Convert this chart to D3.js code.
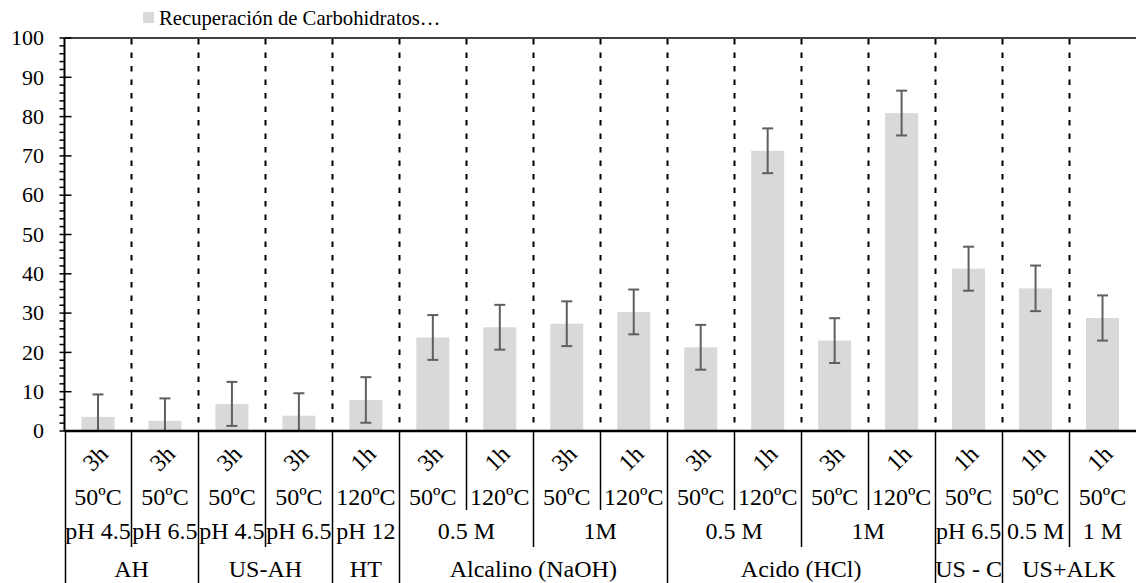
<!DOCTYPE html>
<html>
<head>
<meta charset="utf-8">
<script src="https://cdn.jsdelivr.net/npm/d3@7"></script>
<style>
  body { margin: 0; background: #fff; }
</style>
</head>
<body>
<div id="chart"></div>
<script>
// values
const values = [3.6, 2.6, 6.9, 3.9, 7.9, 23.8, 26.4, 27.3, 30.3, 21.3, 71.3, 23.0, 80.9, 41.3, 36.3, 28.75];
const errors = [5.7, 5.7, 5.6, 5.7, 5.8, 5.7, 5.7, 5.7, 5.7, 5.7, 5.7, 5.7, 5.7, 5.6, 5.8, 5.75];

// category levels, innermost first
const times = ["3h", "3h", "3h", "3h", "1h", "3h", "1h", "3h", "1h", "3h", "1h", "3h", "1h", "1h", "1h", "1h"];
const temps = ["50ºC", "50ºC", "50ºC", "50ºC", "120ºC", "50ºC", "120ºC", "50ºC", "120ºC", "50ºC", "120ºC", "50ºC", "120ºC", "50ºC", "50ºC", "50ºC"];
const condLabels = ["pH 4.5", "pH 6.5", "pH 4.5", "pH 6.5", "pH 12", "0.5 M", "1M", "0.5 M", "1M", "pH 6.5", "0.5 M", "1 M"];
const condSpans = [1, 1, 1, 1, 1, 2, 2, 2, 2, 1, 1, 1];
const groupLabels = ["AH", "US-AH", "HT", "Alcalino (NaOH)", "Acido (HCl)", "US - C", "US+ALK"];
const groupSpans = [2, 2, 1, 4, 4, 1, 2];

const yTicks = d3.range(0, 101, 10);
const legendLabel = "Recuperación de Carbohidratos…";

const chartWidth = 1136;
const chartHeight = 583;
const plotLeft = 64.5;
const plotRight = 1136;
const plotTop = 38;
const plotBottom = 431;
const serif = '"Liberation Serif", "Times New Roman", "DejaVu Serif", serif';

const svg = d3.select('#chart')
    .append('svg')
        .attr('width', chartWidth)
        .attr('height', chartHeight)
        .attr('font-family', serif)
        .style('font-family', serif);

const x = d3.scaleBand()
    .domain(d3.range(values.length))
    .range([plotLeft, plotRight]);

const y = d3.scaleLinear()
    .domain([0, 100])
    .range([plotBottom, plotTop]);

// index where each span starts
function spanStarts(spans) {
    const out = [];
    let s = 0;
    spans.forEach(n => { out.push(s); s += n; });
    return out;
}
const condStarts = spanStarts(condSpans);
const groupStarts = spanStarts(groupSpans);

// dashed separators inside the plot
svg.append('g')
    .selectAll('line')
    .data(d3.range(1, values.length))
    .join('line')
        .attr('x1', i => Math.round(x(i)) + 0.5)
        .attr('x2', i => Math.round(x(i)) + 0.5)
        .attr('y1', y(100) + 1)
        .attr('y2', y(0))
        .attr('stroke', '#000')
        .attr('stroke-width', 2)
        .attr('stroke-dasharray', '5.5,8');

// bars
const barW = 33;
svg.append('g')
    .selectAll('rect')
    .data(values)
    .join('rect')
        .attr('x', (d, i) => x(i) + x.bandwidth() / 2 - barW / 2)
        .attr('y', d => y(d))
        .attr('width', barW)
        .attr('height', d => y(0) - y(d))
        .attr('fill', '#d9d9d9');

// error bars
const errG = svg.append('g')
    .attr('stroke', '#5f5f5f')
    .attr('stroke-width', 2);
const capW = 11;
values.forEach((v, i) => {
    const cx = x(i) + x.bandwidth() / 2;
    const hi = v + errors[i];
    const lo = Math.max(0, v - errors[i]);
    errG.append('line')
        .attr('x1', cx).attr('x2', cx)
        .attr('y1', y(hi)).attr('y2', y(lo));
    errG.append('line')
        .attr('x1', cx - capW / 2).attr('x2', cx + capW / 2)
        .attr('y1', y(hi)).attr('y2', y(hi));
    if (v - errors[i] > 0) {
        errG.append('line')
            .attr('x1', cx - capW / 2).attr('x2', cx + capW / 2)
            .attr('y1', y(lo)).attr('y2', y(lo));
    }
});

// top border and x axis line
svg.append('line')
    .attr('x1', plotLeft).attr('x2', plotRight)
    .attr('y1', y(100)).attr('y2', y(100))
    .attr('stroke', '#000').attr('stroke-width', 1.5);
svg.append('line')
    .attr('x1', plotLeft).attr('x2', plotRight)
    .attr('y1', y(0)).attr('y2', y(0))
    .attr('stroke', '#000').attr('stroke-width', 2.5);

// y axis with major and minor ticks
svg.append('line')
    .attr('x1', plotLeft).attr('x2', plotLeft)
    .attr('y1', y(100)).attr('y2', y(0))
    .attr('stroke', '#000').attr('stroke-width', 2);

svg.append('g')
    .selectAll('line')
    .data(d3.range(0, 101, 2).filter(d => d % 10 !== 0))
    .join('line')
        .attr('x1', plotLeft - 5).attr('x2', plotLeft)
        .attr('y1', d => y(d)).attr('y2', d => y(d))
        .attr('stroke', '#000').attr('stroke-width', 1.5);

svg.append('g')
    .selectAll('line')
    .data(yTicks)
    .join('line')
        .attr('x1', plotLeft - 5).attr('x2', plotLeft + 7)
        .attr('y1', d => y(d)).attr('y2', d => y(d))
        .attr('stroke', '#000').attr('stroke-width', 1.5);

svg.append('g')
    .selectAll('text')
    .data(yTicks)
    .join('text')
        .attr('x', 44)
        .attr('y', d => y(d))
        .attr('dy', '0.33em')
        .attr('text-anchor', 'end')
        .style('font-size', '22px')
        .text(d => d);

// separators below the axis
const sepEnd = { temp: 510, cond: 547, group: chartHeight };
const seps = d3.range(0, values.length).map(i => {
    let end = sepEnd.temp;
    if (groupStarts.includes(i)) end = sepEnd.group;
    else if (condStarts.includes(i)) end = sepEnd.cond;
    return { i, end };
});
svg.append('g')
    .selectAll('line')
    .data(seps)
    .join('line')
        .attr('x1', d => Math.round(x(d.i)) + 0.5)
        .attr('x2', d => Math.round(x(d.i)) + 0.5)
        .attr('y1', y(0))
        .attr('y2', d => d.end)
        .attr('stroke', '#000')
        .attr('stroke-width', 1.5);

// category labels
const labelSize = '24px';
svg.append('g')
    .selectAll('text')
    .data(times)
    .join('text')
        .attr('transform', (d, i) => `translate(${x(i) + x.bandwidth() / 2 - 3},458) rotate(-45)`)
        .attr('text-anchor', 'middle')
        .attr('dy', '0.35em')
        .style('font-size', labelSize)
        .text(d => d);

svg.append('g')
    .selectAll('text')
    .data(temps)
    .join('text')
        .attr('x', (d, i) => x(i) + x.bandwidth() / 2)
        .attr('y', 505)
        .attr('text-anchor', 'middle')
        .style('font-size', labelSize)
        .text(d => d);

svg.append('g')
    .selectAll('text')
    .data(condLabels)
    .join('text')
        .attr('x', (d, k) => x(condStarts[k]) + x.bandwidth() * condSpans[k] / 2)
        .attr('y', 539)
        .attr('text-anchor', 'middle')
        .style('font-size', labelSize)
        .text(d => d);

svg.append('g')
    .selectAll('text')
    .data(groupLabels)
    .join('text')
        .attr('x', (d, k) => x(groupStarts[k]) + x.bandwidth() * groupSpans[k] / 2)
        .attr('y', 577)
        .attr('text-anchor', 'middle')
        .style('font-size', labelSize)
        .text(d => d);

// legend
svg.append('rect')
    .attr('x', 143).attr('y', 12)
    .attr('width', 11).attr('height', 11)
    .attr('fill', '#d9d9d9');
svg.append('text')
    .attr('x', 159)
    .attr('y', 25)
    .style('font-size', '20.7px')
    .text(legendLabel);
</script>
</body>
</html>
